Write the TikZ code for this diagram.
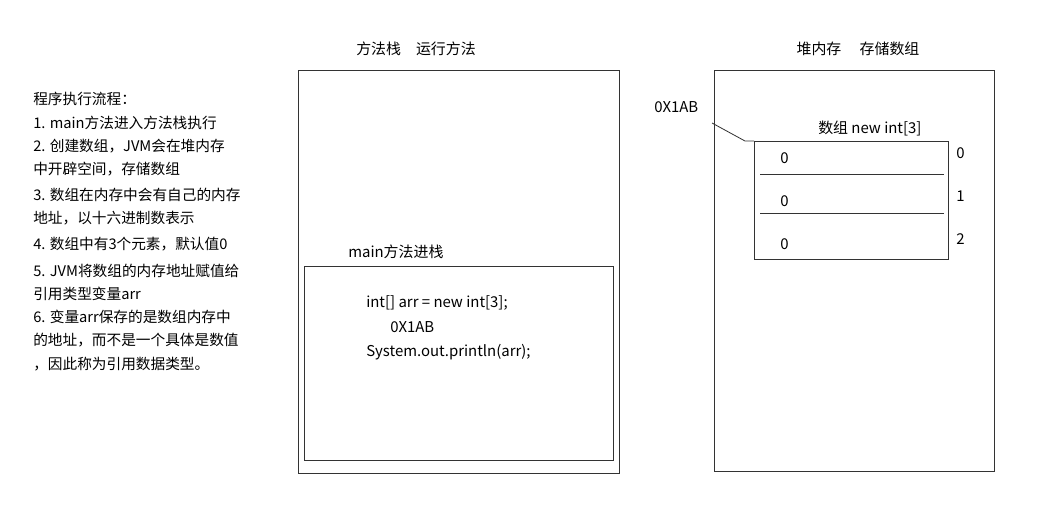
\documentclass[tikz,border=0pt]{standalone}
\usepackage{fontspec}
\setmainfont{Noto Sans CJK SC}
\begin{document}
\begin{tikzpicture}[x=0.75pt,y=-0.75pt,
  box/.style={draw=black!80,line width=0.6pt},
  txt/.style={inner sep=0pt,anchor=west,font=\fontsize{11.2}{13}\selectfont},
  note/.style={inner sep=0pt,anchor=north west,align=left,font=\fontsize{11}{17.5}\selectfont}]
  \useasboundingbox (0,0) rectangle (1058,511);
  % stack
  \node[txt,anchor=center] (stacktitle) at (416,49) {方法栈\quad 运行方法};
  \draw[box] (298,70) rectangle (619,473);
  \draw[box] (304,266) rectangle (613,460);
  \node[txt] (mainlbl) at (348,252) {main方法进栈};
  \node[txt] (code1) at (366,303) {int[] arr = new int[3];};
  \node[txt] (code2) at (390,327) {0X1AB};
  \node[txt] (code3) at (366,352) {System.out.println(arr);};
  % heap
  \node[txt,anchor=center] (heaptitle) at (858,49) {堆内存\quad\ 存储数组};
  \draw[box] (714,70) rectangle (994,471);
  \node[txt] (addr) at (654,107) {0X1AB};
  \node[txt] (arrlbl) at (818,128) {数组 new int[3]};
  \draw[box] (754,141) coordinate (arrtl) rectangle (948,259);
  \draw[box] (760,174) -- (944,174);
  \draw[box] (760,213) -- (944,213);
  \foreach \v/\y in {0/158,1/201,2/244} {
    \node[txt] (val\v) at (780,\y) {0};
  }
  \foreach \v/\y in {0/153,1/196,2/239} {
    \node[txt] (idx\v) at (956,\y) {\v};
  }
  \coordinate (addrend) at (712,123);
  \draw[box] (addrend) -- (745,141) -- (arrtl);
  % notes
  \node[note] (notes) at (33,92) {程序执行流程：\\
  1. main方法进入方法栈执行\\
  2. 创建数组，JVM会在堆内存\\中开辟空间，存储数组\\[2pt]
  3. 数组在内存中会有自己的内存\\地址，以十六进制数表示\\[2pt]
  4. 数组中有3个元素，默认值0\\[2pt]
  5. JVM将数组的内存地址赋值给\\引用类型变量arr\\
  6. 变量arr保存的是数组内存中\\的地址，而不是一个具体是数值\\，因此称为引用数据类型。};
\end{tikzpicture}
\end{document}
